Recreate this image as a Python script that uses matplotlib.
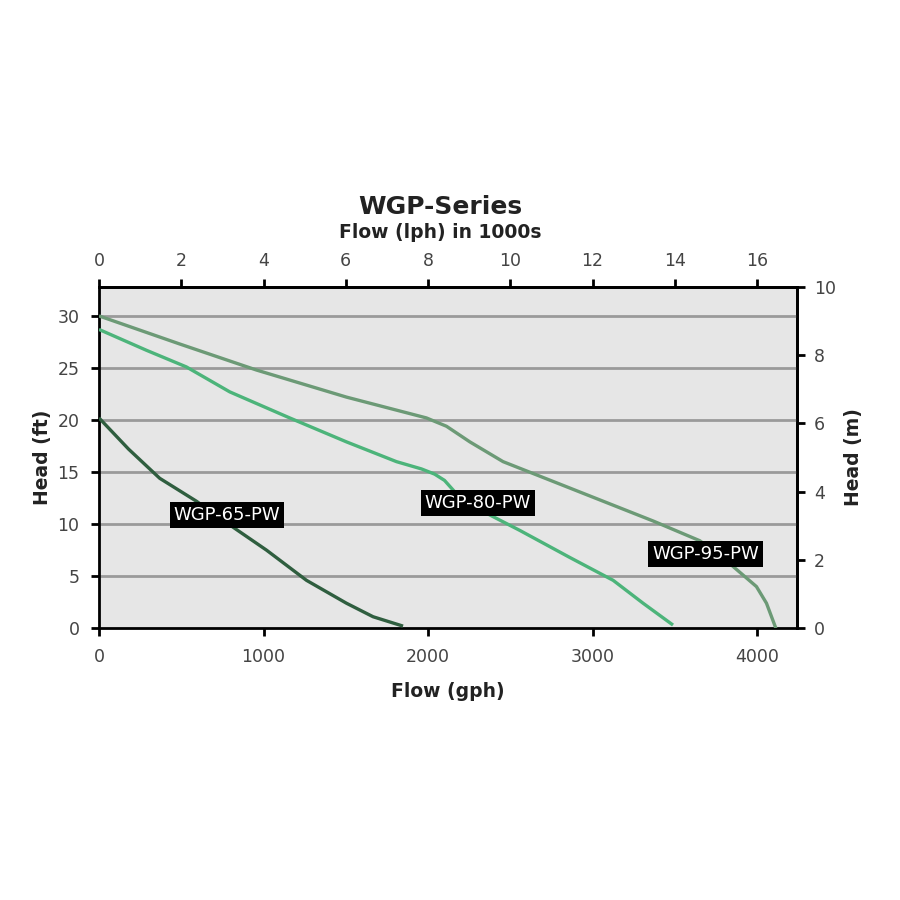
import matplotlib.pyplot as plt

# flow in gph, head in ft
wgp65_flow = [0, 180, 369, 592, 815, 1018, 1261, 1504, 1666, 1848]
wgp65_head = [20.2, 17.2, 14.4, 12.2, 9.7, 7.5, 4.6, 2.4, 1.1, 0.2]

wgp80_flow = [0, 288, 531, 795, 1159, 1504, 1808, 1960, 2040, 2100, 2213, 2557, 2861, 3125, 3307, 3489]
wgp80_head = [28.7, 26.7, 25.1, 22.7, 20.2, 17.9, 16.0, 15.3, 14.8, 14.2, 12.2, 9.4, 6.8, 4.6, 2.4, 0.3]

wgp95_flow = [0, 491, 957, 1504, 1990, 2112, 2254, 2456, 2760, 3064, 3368, 3652, 3834, 3996, 4057, 4114]
wgp95_head = [30.0, 27.3, 24.8, 22.2, 20.2, 19.4, 17.9, 16.0, 14.1, 12.2, 10.3, 8.4, 6.2, 4.0, 2.4, 0.0]

labels = ["WGP-65-PW", "WGP-80-PW", "WGP-95-PW"]
label_pos = [(777, 10.9), (2302, 12.0), (3687, 7.1)]
colors = ["#2f5e3f", "#4cb47a", "#6c9a76"]

plt.rcParams['font.family'] = ['DejaVu Sans']

fig = plt.figure(figsize=(9, 9), dpi=100)
ax = fig.add_axes([0.110, 0.302, 0.776, 0.3795])
ax.set_facecolor("#e6e6e6")

for f, h, c in zip([wgp65_flow, wgp80_flow, wgp95_flow],
                   [wgp65_head, wgp80_head, wgp95_head], colors):
    ax.plot(f, h, color=c, lw=2.4, solid_capstyle='butt', solid_joinstyle='round', zorder=3)

for lab, (x, y) in zip(labels, label_pos):
    ax.text(x, y, lab, color="white", fontsize=13, ha="center", va="center", zorder=5,
            bbox=dict(boxstyle="square,pad=0.22", fc="black", ec="none"))

ax.set_xlim(0, 4245)
ax.set_ylim(0, 32.81)
ax.set_xticks([0, 1000, 2000, 3000, 4000])
ax.set_yticks([0, 5, 10, 15, 20, 25, 30])
for yv in [5, 10, 15, 20, 25, 30]:
    ax.axhline(yv, color="#9a9a9a", lw=2, zorder=1)

for s in ax.spines.values():
    s.set_linewidth(2)
    s.set_color("black")
ax.tick_params(direction="out", length=6, width=2, labelsize=12.5, labelcolor="#444444", pad=8)

ax.set_xlabel("Flow (gph)", fontsize=13.5, fontweight="bold", color="#222222", labelpad=12)
ax.set_ylabel("Head (ft)", fontsize=13.5, fontweight="bold", color="#222222", labelpad=4)

top = ax.secondary_xaxis("top", functions=(lambda x: x * 0.004, lambda x: x / 0.004))
top.set_xticks([0, 2, 4, 6, 8, 10, 12, 14, 16])
top.tick_params(direction="out", length=6, width=2, labelsize=12.5, labelcolor="#444444", pad=6)
top.spines["top"].set_linewidth(2)

right = ax.secondary_yaxis("right", functions=(lambda y: y * 0.3048, lambda y: y / 0.3048))
right.set_yticks([0, 2, 4, 6, 8, 10])
right.tick_params(direction="out", length=6, width=2, labelsize=12.5, labelcolor="#444444", pad=6)
right.spines["right"].set_linewidth(2)
right.set_ylabel("Head (m)", fontsize=13.5, fontweight="bold", color="#222222", labelpad=6)

fig.text(0.489, 0.770, "WGP-Series", ha="center", va="center", fontsize=18, fontweight="bold", color="#222222")
fig.text(0.489, 0.742, "Flow (lph) in 1000s", ha="center", va="center", fontsize=13.5, fontweight="bold", color="#222222")

fig.savefig("out.png", dpi=100, facecolor="white")
